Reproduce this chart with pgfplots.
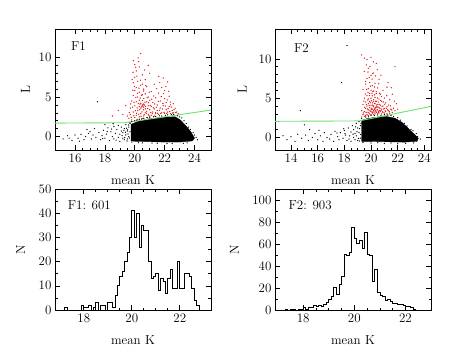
\documentclass[border=0pt]{standalone}
\usepackage{fontspec}
\usepackage{pgfplots}
\pgfplotsset{compat=1.18}
\definecolor{cutgreen}{RGB}{110,225,110}
\definecolor{selred}{RGB}{225,20,20}

\pgfplotsset{
  pgplot/.style={
    scale only axis, width=156pt, height=121pt, anchor=south west,
    tick align=inside, tick pos=both,
    xticklabel pos=lower, yticklabel pos=left,
    major tick length=5pt, minor tick length=2.5pt,
    axis line style={line width=0.7pt}, every tick/.style={line width=0.6pt},
    /pgf/number format/assume math mode=true,
    tick label style={font=\fontsize{13}{15}\selectfont},
    label style={font=\fontsize{13}{15}\selectfont},
    xlabel={mean K},
    xlabel style={at={(axis description cs:0.5,-0.18)}, anchor=north},
  },
  blackdots/.style={only marks, mark=*, mark size=0.35pt, black},
  reddots/.style={only marks, mark=*, mark size=0.38pt, selred},
  hist/.style={const plot mark left, black, line width=0.7pt, mark=none},
}

\begin{document}
\begin{tikzpicture}
\path[use as bounding box] (0,0) rectangle (463pt,357pt);

% ---------------- F1 scatter
\begin{axis}[pgplot, at={(55pt,207pt)},
  xmin=14.66, xmax=25.1, ymin=-1.7, ymax=13.6,
  xtick={16,18,20,22,24}, ytick={0,5,10},
  minor x tick num=3, minor y tick num=4,
  ylabel={L}, ylabel style={at={(axis description cs:-0.19,0.5)}, anchor=center}]
\addplot[fill=black, draw=black, line width=0.3pt] coordinates {
  (19.75,-0.55) (19.75,1.55) (20.2,1.9) (21.0,2.25) (22.0,2.45) (22.7,2.5) (23.05,2.1)
  (23.45,1.3) (23.75,0.6) (24.0,-0.2) (23.85,-0.55) (23.0,-0.7) (22.0,-0.7)
  (21.0,-0.65) (20.0,-0.6) (19.75,-0.55)};
\addplot[blackdots] coordinates {
  (15.2,-0.3) (15.5,0.1) (15.8,-0.5) (16.0,0.2) (16.2,-0.2) (16.4,0.3) (16.6,-0.4)
  (16.7,0.0) (16.9,0.4) (17.1,-0.3) (17.2,0.2) (17.4,-0.1) (17.5,4.4) (17.6,0.5)
  (17.7,-0.4) (17.8,0.1) (17.9,0.8) (18.0,-0.2) (18.1,0.3) (18.2,1.1) (18.3,-0.5)
  (18.4,0.6) (18.5,0.0) (18.6,1.3) (18.6,-0.3) (18.7,0.4) (18.8,0.9) (18.9,-0.1)
  (18.9,1.4) (19.0,0.3) (19.0,-0.6) (19.1,0.7) (19.1,1.2) (19.2,-0.2) (19.2,0.5)
  (19.3,1.0) (19.3,-0.4) (19.4,0.2) (19.4,1.5) (19.5,0.7) (19.5,-0.3) (19.6,1.2)
  (19.6,0.0) (18.0,1.5) (17.3,1.0) (16.8,0.9) (15.6,-0.2) (16.3,-0.6) (17.0,0.6)
  (19.52,0.85) (19.58,1.45) (19.63,-0.18) (19.55,0.32) (19.45,1.05) (19.38,0.55)
  (19.33,-0.15) (19.27,0.78) (19.15,0.12) (19.68,0.62) (19.66,1.7) (19.48,-0.55)
  (18.45,0.95) (18.75,-0.45) (18.15,0.62) (17.85,-0.25) (18.55,1.62)
  (19.7,1.7) (19.8,1.9) (20.0,2.0) (20.3,2.2) (20.6,2.3) (21.0,2.45) (21.4,2.55)
  (21.8,2.6) (22.2,2.75) (22.6,2.8) (23.0,2.5) (23.3,2.0) (23.6,1.2) (23.9,0.5)
  (24.1,-0.1) (24.2,-0.4) (23.5,-0.8) (22.5,-0.9) (21.5,-0.85) (20.5,-0.8) (19.8,-0.7)
  (20.12,2.08) (20.45,2.22) (20.85,2.38) (21.25,2.5) (21.65,2.62) (22.05,2.68)
  (22.45,2.78) (22.85,2.62) (23.15,2.35) (23.45,1.65) (23.72,0.92) (24.0,0.2)
  (23.25,-0.85) (22.15,-0.88) (21.15,-0.82) (20.25,-0.78)};
\addplot[reddots] coordinates {
  (19.6,2.3) (19.7,2.8) (19.7,3.6) (19.8,4.5) (19.8,2.1) (19.9,3.1) (19.9,5.2)
  (19.9,6.8) (19.9,9.6) (20.0,2.4) (20.0,3.9) (20.0,5.8) (20.0,7.5) (20.0,9.1)
  (20.1,2.7) (20.1,4.4) (20.1,6.2) (20.1,8.3) (20.2,2.2) (20.2,3.3) (20.2,5.0)
  (20.2,7.0) (20.3,2.5) (20.3,3.8) (20.3,4.6) (20.3,5.6) (20.3,8.8) (20.4,2.9)
  (20.4,3.6) (20.4,4.2) (20.4,6.5) (20.4,10.5) (20.5,2.3) (20.5,3.9) (20.5,4.0)
  (20.5,5.3) (20.5,7.8) (20.6,2.6) (20.6,3.7) (20.6,4.1) (20.6,4.8) (20.6,6.0)
  (20.7,3.0) (20.7,3.5) (20.7,5.4) (20.7,7.2) (20.8,2.4) (20.8,3.2) (20.8,4.4)
  (20.8,6.3) (20.9,2.8) (20.9,3.9) (20.9,5.0) (21.0,2.5) (21.0,3.4) (21.0,4.6)
  (21.0,8.0) (21.1,2.7) (21.1,3.8) (21.1,5.7) (21.2,3.1) (21.2,4.3) (21.3,2.6)
  (21.3,3.5) (21.3,6.6) (21.4,2.9) (21.4,4.9) (21.5,3.3) (21.5,4.0) (21.6,2.8)
  (21.6,5.5) (21.7,3.6) (21.7,4.5) (21.8,3.0) (21.8,6.2) (21.9,3.9) (21.9,7.4)
  (22.0,2.9) (22.0,4.8) (22.0,5.8) (22.1,3.4) (22.1,4.3) (22.2,3.1) (22.2,6.9)
  (22.3,3.8) (22.3,5.1) (22.4,2.9) (22.4,4.0) (22.5,3.3) (22.6,3.0) (22.7,3.6)
  (22.8,3.1) (22.9,2.9) (19.2,2.8) (18.9,3.3) (19.4,3.9) (19.5,2.6) (18.5,2.6)
  (21.6,7.6) (20.9,9.0) (20.45,3.75) (20.55,3.85) (20.65,4.0) (20.35,4.1)
  (19.63,3.05) (19.72,4.12) (19.76,2.45) (19.84,3.72) (19.87,5.85) (19.93,2.62)
  (19.95,4.33) (20.04,3.27) (20.07,4.95) (20.12,2.95) (20.16,3.62) (20.18,5.47)
  (20.23,4.21) (20.27,2.83) (20.28,6.12) (20.33,3.41) (20.36,4.87) (20.42,2.56)
  (20.44,5.22) (20.48,3.12) (20.52,4.56) (20.57,3.38) (20.59,5.76) (20.63,2.77)
  (20.68,4.35) (20.72,3.82) (20.74,6.45) (20.78,2.95) (20.83,4.92) (20.86,3.55)
  (20.92,4.28) (20.95,2.66) (20.97,5.61) (21.04,3.93) (21.07,3.05) (21.13,4.72)
  (21.17,2.88) (21.24,3.66) (21.27,5.13) (21.33,4.12) (21.38,3.02) (21.44,3.71)
  (21.47,6.05) (21.53,2.95) (21.58,4.46) (21.64,3.33) (21.67,6.84) (21.73,2.92)
  (21.77,5.05) (21.84,3.48) (21.88,4.18) (21.93,5.42) (21.96,3.07) (22.04,3.86)
  (22.08,6.32) (22.14,2.95) (22.17,4.62) (22.23,3.55) (22.27,5.73) (22.34,3.18)
  (22.38,4.36) (22.45,3.72) (22.52,2.98) (22.57,4.15) (22.63,3.42) (22.74,3.05)
  (19.88,8.12) (20.14,7.64) (20.26,9.48) (19.97,6.35) (20.06,8.77) (20.38,7.12)
  (20.52,6.63) (20.65,8.42) (19.82,7.2) (20.22,9.95)};
\addplot[cutgreen, line width=0.9pt] coordinates {(14.66,1.7) (19.3,1.75) (25.1,3.35)};
\node[anchor=west, font=\fontsize{13}{15}\selectfont] at (rel axis cs:0.08,0.86) {F1};
\end{axis}

% ---------------- F2 scatter
\begin{axis}[pgplot, at={(275pt,207pt)},
  xmin=12.8, xmax=24.5, ymin=-1.6, ymax=13.8,
  xtick={14,16,18,20,22,24}, ytick={0,5,10},
  minor x tick num=3, minor y tick num=4,
  ylabel={L}, ylabel style={at={(axis description cs:-0.21,0.5)}, anchor=center}]
\addplot[fill=black, draw=black, line width=0.3pt] coordinates {
  (19.3,-0.5) (19.3,2.15) (19.7,2.4) (20.5,2.6) (21.2,2.65) (21.8,2.45) (22.3,1.95)
  (22.8,1.15) (23.25,0.4) (23.55,-0.1) (23.45,-0.5) (22.5,-0.6) (21.0,-0.55)
  (20.0,-0.5) (19.3,-0.5)};
\addplot[blackdots] coordinates {
  (13.4,0.2) (13.7,-0.3) (14.0,0.1) (14.3,-0.5) (14.5,0.4) (14.7,3.4) (14.8,-0.1)
  (15.0,1.6) (15.1,0.3) (15.3,-0.4) (15.6,0.0) (15.8,0.5) (16.0,-0.3) (16.2,0.2)
  (16.4,-0.5) (16.5,0.6) (16.7,0.0) (16.9,-0.2) (17.0,0.4) (17.2,-0.5) (17.3,0.8)
  (17.5,0.1) (17.6,-0.3) (17.7,0.6) (17.8,7.0) (17.9,-0.1) (18.0,0.9) (18.1,0.3)
  (18.2,11.7) (18.2,-0.4) (18.3,1.2) (18.4,0.2) (18.5,0.7) (18.5,-0.5) (18.6,1.5)
  (18.7,0.0) (18.7,1.0) (18.8,-0.3) (18.8,0.5) (18.9,1.8) (18.9,0.2) (19.0,-0.4)
  (19.0,1.2) (19.1,0.6) (19.1,2.0) (19.2,-0.1) (19.2,1.5) (16.1,0.9) (15.4,1.0)
  (18.95,0.72) (19.05,-0.12) (19.15,1.12) (19.22,0.38) (19.25,1.82) (19.12,-0.45)
  (18.85,1.35) (18.65,0.42) (18.35,-0.2) (18.05,0.48) (17.95,1.1) (17.45,0.55)
  (19.3,2.4) (19.6,2.6) (20.0,2.8) (20.5,2.85) (21.0,2.9) (21.5,2.8) (22.0,2.5)
  (22.5,1.8) (23.0,1.0) (23.4,0.5) (23.7,-0.2) (23.2,-0.7) (22.0,-0.8) (21.0,-0.75)
  (20.0,-0.7) (19.4,-0.65) (19.82,2.62) (20.25,2.78) (20.75,2.82) (21.25,2.85)
  (21.7,2.68) (22.2,2.2) (22.7,1.45) (23.15,0.85) (23.5,0.1) (22.6,-0.75)
  (21.5,-0.72) (20.5,-0.68)};
\addplot[reddots] coordinates {
  (19.3,2.6) (19.3,3.4) (19.3,10.5) (19.4,2.9) (19.4,4.2) (19.4,6.1) (19.5,2.7)
  (19.5,3.3) (19.5,5.0) (19.5,8.4) (19.6,2.8) (19.6,3.7) (19.6,4.5) (19.6,6.8)
  (19.7,2.9) (19.7,3.2) (19.7,4.0) (19.7,5.3) (19.7,7.5) (19.7,9.9) (19.8,2.8)
  (19.8,3.5) (19.8,4.3) (19.8,4.9) (19.8,6.2) (19.8,8.8) (19.9,3.0) (19.9,3.8)
  (19.9,4.6) (19.9,5.6) (19.9,7.0) (20.0,2.9) (20.0,3.3) (20.0,4.1) (20.0,5.0)
  (20.0,6.0) (20.0,7.9) (20.0,10.2) (20.1,3.1) (20.1,3.6) (20.1,4.4) (20.1,5.3)
  (20.1,6.6) (20.2,2.9) (20.2,3.4) (20.2,4.0) (20.2,4.8) (20.2,5.9) (20.2,8.2)
  (20.3,3.0) (20.3,3.7) (20.3,4.3) (20.3,5.1) (20.3,6.9) (20.4,3.2) (20.4,3.9)
  (20.4,4.6) (20.4,5.6) (20.4,9.4) (20.5,3.0) (20.5,3.5) (20.5,4.2) (20.5,6.3)
  (20.6,3.1) (20.6,3.8) (20.6,4.9) (20.6,7.4) (20.7,3.3) (20.7,4.1) (20.7,5.5)
  (20.8,3.0) (20.8,3.6) (20.8,4.6) (20.9,3.2) (20.9,4.0) (20.9,6.0) (21.0,3.1)
  (21.0,3.7) (21.0,5.0) (21.1,3.3) (21.1,4.4) (21.2,3.0) (21.2,3.9) (21.2,6.4)
  (21.3,3.4) (21.4,3.1) (21.4,4.8) (21.5,3.6) (21.6,3.2) (21.6,5.5) (21.8,9.0)
  (21.8,3.4) (22.0,3.6) (21.9,4.3) (20.15,3.25) (20.25,3.55) (20.35,3.45)
  (20.45,3.85) (20.05,3.55) (19.95,3.35) (20.55,3.15) (20.65,3.45)
  (19.42,3.12) (19.47,4.62) (19.53,3.85) (19.58,5.52) (19.62,3.21) (19.66,4.18)
  (19.68,6.12) (19.73,3.62) (19.76,4.76) (19.78,5.72) (19.83,3.15) (19.86,4.08)
  (19.88,5.32) (19.92,3.48) (19.94,4.42) (19.97,6.52) (20.02,3.72) (20.04,4.68)
  (20.07,5.62) (20.09,3.18) (20.12,4.12) (20.14,5.82) (20.17,3.92) (20.19,4.56)
  (20.23,3.22) (20.26,4.32) (20.28,5.42) (20.32,3.82) (20.34,4.62) (20.37,3.28)
  (20.39,5.82) (20.43,4.12) (20.46,3.58) (20.48,5.02) (20.52,3.88) (20.54,4.52)
  (20.58,3.32) (20.62,4.22) (20.64,5.62) (20.67,3.68) (20.72,4.72) (20.75,3.42)
  (20.78,5.22) (20.83,3.92) (20.87,3.25) (20.92,4.52) (20.96,3.62) (21.03,4.22)
  (21.06,3.38) (21.14,3.72) (21.18,5.32) (21.25,3.52) (21.32,4.12) (21.37,3.28)
  (21.45,4.02) (21.55,3.52) (21.68,3.72) (21.75,4.62) (19.58,7.12) (19.77,8.32)
  (19.92,9.02) (20.08,7.42) (20.18,9.62) (20.33,7.82) (20.47,8.62) (19.65,9.22)
  (20.58,6.82) (19.87,7.62) (20.27,6.42) (20.12,8.12) (19.52,10.1) (20.74,7.92)
  (21.28,7.02) (21.52,6.32)};
\addplot[cutgreen, line width=0.9pt] coordinates {(12.8,2.05) (19.1,2.1) (24.5,3.95)};
\node[anchor=west, font=\fontsize{13}{15}\selectfont] at (rel axis cs:0.1,0.84) {F2};
\end{axis}

% ---------------- F1 histogram
\begin{axis}[pgplot, at={(55pt,47pt)},
  xmin=16.8, xmax=23.3, ymin=0, ymax=50,
  xtick={18,20,22}, ytick={0,10,20,30,40,50},
  minor x tick num=3, minor y tick num=1,
  ylabel={N}, ylabel style={at={(axis description cs:-0.22,0.5)}, anchor=center}]
\addplot[hist] coordinates {
  (17.2,0) (17.2,1) (17.3,0) (17.4,0) (17.5,0) (17.6,0) (17.7,0) (17.8,0)
  (17.9,2) (18.0,1) (18.1,1) (18.2,2) (18.3,0) (18.4,1) (18.5,3) (18.6,0)
  (18.7,2) (18.8,2) (18.9,0) (19.0,3) (19.1,3) (19.2,1) (19.3,6) (19.4,10)
  (19.5,14) (19.6,16) (19.7,20) (19.8,24) (19.9,30) (20.0,41) (20.1,30) (20.2,40)
  (20.3,26) (20.4,35) (20.5,33) (20.6,33) (20.7,20) (20.8,13) (20.9,14) (21.0,15)
  (21.1,8) (21.2,13) (21.3,12) (21.4,7) (21.5,13) (21.6,17) (21.7,9) (21.8,9)
  (21.9,20) (22.0,9) (22.1,9) (22.2,15) (22.3,15) (22.4,14) (22.5,9) (22.6,4)
  (22.7,2) (22.8,0)};
\node[anchor=west, font=\fontsize{13}{15}\selectfont] at (rel axis cs:0.06,0.87) {F1: 601};
\end{axis}

% ---------------- F2 histogram
\begin{axis}[pgplot, at={(275pt,47pt)},
  xmin=16.9, xmax=23.0, ymin=0, ymax=110,
  xtick={18,20,22}, ytick={0,20,40,60,80,100},
  minor x tick num=3, minor y tick num=1,
  ylabel={N}, ylabel style={at={(axis description cs:-0.26,0.5)}, anchor=center}]
\addplot[hist] coordinates {
  (17.3,0) (17.3,1) (17.4,0) (17.5,1) (17.6,1) (17.7,0) (17.8,1) (17.9,1)
  (18.0,2) (18.1,1) (18.2,2) (18.3,2) (18.4,4) (18.5,3) (18.6,4) (18.7,3)
  (18.8,5) (18.9,7) (19.0,10) (19.1,12) (19.2,21) (19.3,14) (19.4,23) (19.5,31)
  (19.6,51) (19.7,50) (19.8,52) (19.9,75) (20.0,65) (20.1,61) (20.2,63) (20.3,56)
  (20.4,71) (20.5,51) (20.6,50) (20.7,26) (20.8,37) (20.9,16) (21.0,13) (21.1,12)
  (21.2,9) (21.3,10) (21.4,8) (21.5,6) (21.6,6) (21.7,5) (21.8,5) (21.9,4)
  (22.0,3) (22.1,3) (22.2,2) (22.3,1) (22.4,0)};
\node[anchor=west, font=\fontsize{13}{15}\selectfont] at (rel axis cs:0.065,0.87) {F2: 903};
\end{axis}
\end{tikzpicture}
\end{document}
